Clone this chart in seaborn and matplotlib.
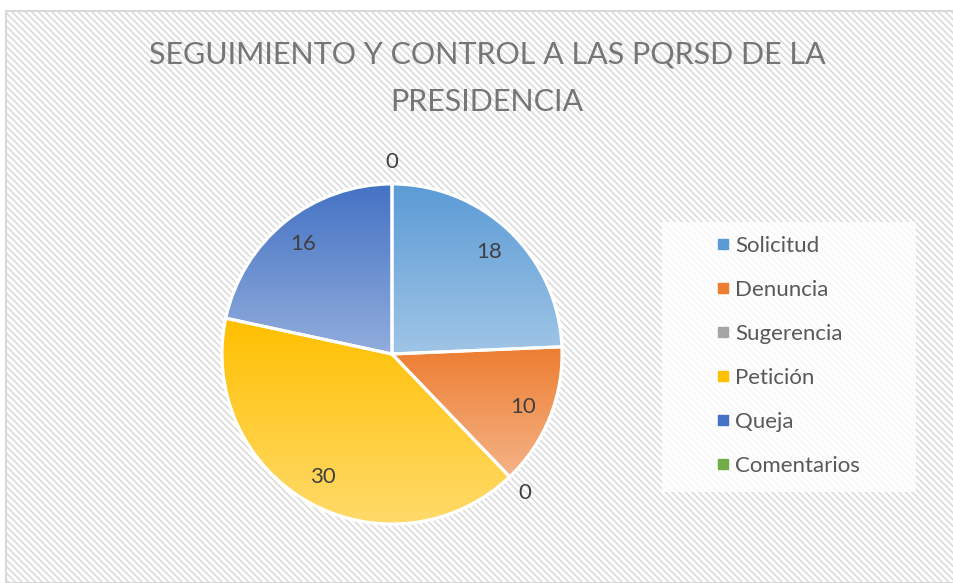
import numpy as np
import seaborn as sns
import matplotlib.pyplot as plt
from matplotlib.patches import Rectangle, Wedge
from matplotlib.lines import Line2D
from matplotlib.colors import to_rgb

# Datos del gráfico
categorias = ["Solicitud", "Denuncia", "Sugerencia", "Petición", "Queja", "Comentarios"]
valores = [18, 10, 0, 30, 16, 0]
colores = ["#5b9bd5", "#ed7d31", "#a5a5a5", "#ffc000", "#4472c4", "#70ad47"]
titulo = "SEGUIMIENTO Y CONTROL A LAS PQRSD DE LA\nPRESIDENCIA"

sns.set_theme(style="white")
plt.rcParams["font.family"] = ["Lato", "DejaVu Sans"]
plt.rcParams["hatch.linewidth"] = 1.1
plt.rcParams["hatch.color"] = "#d9d9d9"

W, H = 954, 583
fig = plt.figure(figsize=(W / 100, H / 100), dpi=100)
fig.patch.set_facecolor("white")

# fondo rayado del área del gráfico
fondo = Rectangle((6 / W, 0), 1 - 6 / W, 1 - 11 / H, transform=fig.transFigure,
                  facecolor="white", edgecolor="#d9d9d9", hatch="\\" * 5, linewidth=1.5,
                  zorder=-3)
fig.patches.append(fondo)

# caja de la leyenda
caja = Rectangle((662 / W, 1 - 492 / H), 254 / W, 270 / H, transform=fig.transFigure,
                 facecolor="white", alpha=0.8, edgecolor="none", zorder=-2)
fig.patches.append(caja)

fig.text(487 / W, 1 - 40 / H, titulo, ha="center", va="top", fontsize=22,
         color="#767676", linespacing=1.85)

# área del pastel
r = 170
cx, cy = 392, 354
lim = 1.3
ax = fig.add_axes([(cx - lim * r) / W, (H - cy - lim * r) / H, 2 * lim * r / W, 2 * lim * r / H])
ax.patch.set_alpha(0)

wedges, texts, autotexts = ax.pie(
    valores, colors=colores, startangle=90, counterclock=False,
    autopct=lambda p: f"{p * sum(valores) / 100:.0f}", pctdistance=0.83,
    wedgeprops=dict(edgecolor="white", linewidth=2.2),
    textprops=dict(fontsize=16, color="#404040"))

# degradado vertical en cada porción (oscuro arriba, claro abajo)
for w, col in zip(wedges, colores):
    if w.theta2 - w.theta1 <= 0:
        continue
    c0 = np.array(to_rgb(col))
    c1 = c0 + (1 - c0) * 0.42
    t = np.linspace(0, 1, 256)[:, None]
    grad = (c0[None, :] * (1 - t) + c1[None, :] * t)[:, None, :]
    bb = w.get_path().get_extents(w.get_patch_transform())
    im = ax.imshow(grad, extent=[bb.x0, bb.x1, bb.y0, bb.y1], origin="upper",
                   aspect="auto", zorder=w.get_zorder() + 0.1)
    im.set_clip_path(w)
    borde = Wedge((0, 0), 1, w.theta1, w.theta2, facecolor="none",
                  edgecolor="white", linewidth=2.2, zorder=im.get_zorder() + 0.1)
    ax.add_patch(borde)

# etiquetas de valores cero fuera del círculo
for w, t, v in zip(wedges, autotexts, valores):
    t.set_zorder(10)
    if v == 0:
        ang = np.deg2rad(w.theta1)
        t.set_position((1.13 * np.cos(ang), 1.13 * np.sin(ang)))

ax.set_xlim(-lim, lim)
ax.set_ylim(-lim, lim)
ax.set_aspect("equal")
ax.axis("off")

handles = [Line2D([0], [0], marker="s", linestyle="none", markersize=7,
                  markerfacecolor=c, markeredgecolor=c) for c in colores]
fig.legend(handles, categorias, loc="upper left", bbox_to_anchor=(695 / W, 1 - 216 / H),
           frameon=False, fontsize=16, labelcolor="#595959", handlelength=0.7,
           handletextpad=0.2, labelspacing=1.08)

fig.savefig("out.png", dpi=100)
